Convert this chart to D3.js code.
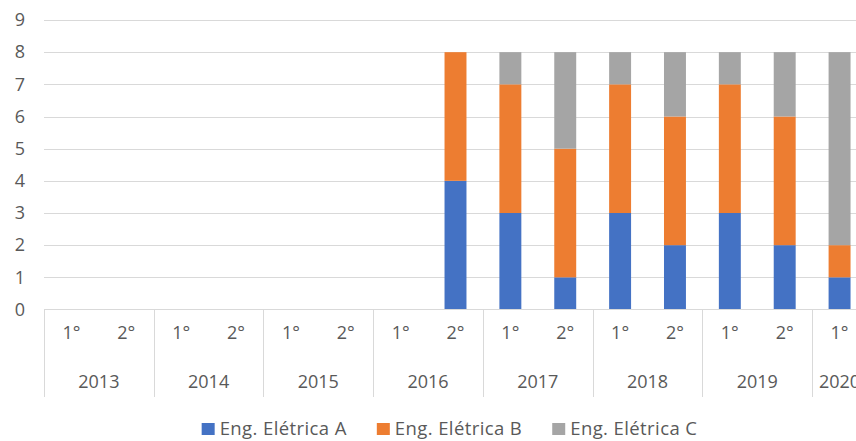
<!DOCTYPE html>
<html>
<head>
<meta charset="utf-8">
<script src="https://cdn.jsdelivr.net/npm/d3@7"></script>
<style>
  body { margin: 0; background: #fff; }
  text { font-family: "Open Sans", sans-serif; fill: #595959; }
</style>
</head>
<body>
<svg id="chart" width="856" height="441"></svg>
<script>
// categories: year / semester
const years = ["2013", "2013", "2014", "2014", "2015", "2015", "2016", "2016",
               "2017", "2017", "2018", "2018", "2019", "2019", "2020"];
const semesters = ["1°", "2°", "1°", "2°", "1°", "2°", "1°", "2°",
                   "1°", "2°", "1°", "2°", "1°", "2°", "1°"];
const seriesNames = ["Eng. Elétrica A", "Eng. Elétrica B", "Eng. Elétrica C"];
const engA = [0, 0, 0, 0, 0, 0, 0, 4, 3, 1, 3, 2, 3, 2, 1];
const engB = [0, 0, 0, 0, 0, 0, 0, 4, 4, 4, 4, 4, 4, 4, 1];
const engC = [0, 0, 0, 0, 0, 0, 0, 0, 1, 3, 1, 2, 1, 2, 6];
const yTicks = [0, 1, 2, 3, 4, 5, 6, 7, 8, 9];
const colors = ["#4472C4", "#ED7D31", "#A5A5A5"];

const svg = d3.select("#chart");
const margin = {left: 44, top: 20, bottom: 309.5};
const plotRight = 867;   // plot runs past the window edge (2020 cut off, as in the source)

const keys = years.map(function(y, i) { return i; });
const x = d3.scaleBand()
  .domain(keys)
  .range([margin.left, plotRight])
  .paddingInner(0.6)
  .paddingOuter(0.3);
const y = d3.scaleLinear().domain([0, 9]).range([margin.bottom, margin.top]);

// gridlines
svg.append("g").selectAll("line")
  .data(yTicks.slice(1))
  .join("line")
  .attr("x1", margin.left).attr("x2", plotRight)
  .attr("y1", function(d) { return Math.round(y(d)) + 0.5; })
  .attr("y2", function(d) { return Math.round(y(d)) + 0.5; })
  .attr("stroke", "#d9d9d9").attr("stroke-width", 1);

// y labels
svg.append("g").selectAll("text")
  .data(yTicks)
  .join("text")
  .attr("x", 25)
  .attr("y", function(d) { return y(d); })
  .attr("dy", "0.35em")
  .attr("text-anchor", "end")
  .style("font-size", "18px")
  .text(function(d) { return d; });

// stacked bars
const rows = keys.map(function(i) { return {k: i, a: engA[i], b: engB[i], c: engC[i]}; });
const stacked = d3.stack().keys(["a", "b", "c"])(rows);
svg.append("g").selectAll("g")
  .data(stacked)
  .join("g")
  .attr("fill", function(d, i) { return colors[i]; })
  .selectAll("rect")
  .data(function(d) { return d; })
  .join("rect")
  .attr("x", function(d) { return x(d.data.k); })
  .attr("width", x.bandwidth())
  .attr("y", function(d) { return y(d[1]); })
  .attr("height", function(d) { return y(d[0]) - y(d[1]); });

// x axis: baseline + year separators
const axisG = svg.append("g");
axisG.append("line")
  .attr("x1", margin.left).attr("x2", plotRight)
  .attr("y1", margin.bottom).attr("y2", margin.bottom)
  .attr("stroke", "#d9d9d9");

const step = x.step();
const yearGroups = d3.groups(keys, function(i) { return years[i]; });
const sepX = [margin.left];
yearGroups.forEach(function(g) {
  const last = g[1][g[1].length - 1];
  sepX.push(margin.left + step * (last + 1));
});
axisG.selectAll("line.sep")
  .data(sepX)
  .join("line")
  .attr("class", "sep")
  .attr("x1", function(d) { return Math.round(d) + 0.5; })
  .attr("x2", function(d) { return Math.round(d) + 0.5; })
  .attr("y1", margin.bottom).attr("y2", 397)
  .attr("stroke", "#d9d9d9");

axisG.selectAll("text.sem")
  .data(keys)
  .join("text")
  .attr("class", "sem")
  .attr("x", function(i) { return x(i) + x.bandwidth() / 2; })
  .attr("y", 333)
  .attr("dy", "0.35em")
  .attr("text-anchor", "middle")
  .style("font-size", "18px")
  .text(function(i) { return semesters[i]; });

axisG.selectAll("text.year")
  .data(yearGroups)
  .join("text")
  .attr("class", "year")
  .attr("x", function(g) {
    const first = g[1][0], last = g[1][g[1].length - 1];
    return margin.left + step * (first + last + 1) / 2;
  })
  .attr("y", 382)
  .attr("dy", "0.35em")
  .attr("text-anchor", "middle")
  .style("font-size", "18px")
  .text(function(g) { return g[0]; });

// legend
const legend = svg.append("g");
const items = legend.selectAll("g")
  .data(seriesNames)
  .join("g");
items.append("rect")
  .attr("width", 13).attr("height", 12)
  .attr("y", 423)
  .attr("fill", function(d, i) { return colors[i]; });
items.append("text")
  .attr("x", 18)
  .attr("y", 429)
  .attr("dy", "0.35em")
  .style("font-size", "18.5px")
  .style("letter-spacing", "0.4px")
  .text(function(d) { return d; });
let cx = 0;
const widths = [];
items.each(function() { widths.push(18 + d3.select(this).select("text").node().getComputedTextLength()); });
const gap = 30;
const total = d3.sum(widths) + gap * (widths.length - 1);
cx = 449.5 - total / 2;
items.attr("transform", function(d, i) {
  const t = "translate(" + cx + ",0)";
  cx += widths[i] + gap;
  return t;
});
</script>
</body>
</html>
